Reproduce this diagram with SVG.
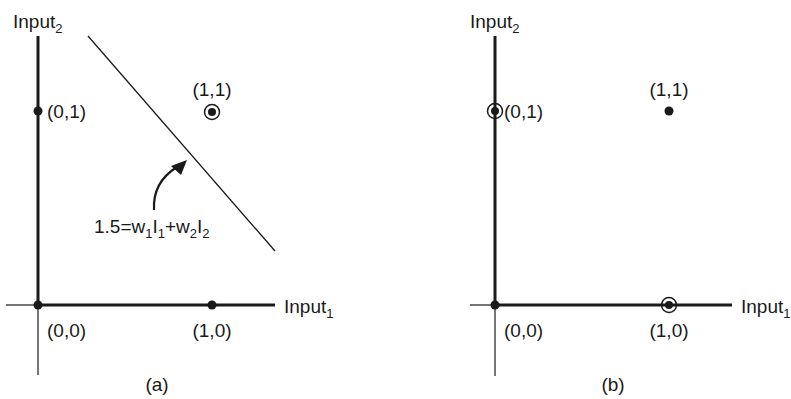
<svg xmlns="http://www.w3.org/2000/svg" width="791" height="399" viewBox="0 0 791 399">
<style>
text{font-family:"Liberation Sans",Arial,sans-serif;font-size:19px;fill:#1a1a1a}
.sub{font-size:13px}
.mid{text-anchor:middle}
.thick{stroke:#1a1a1a;stroke-width:3;fill:none}
.thin{stroke:#1a1a1a;stroke-width:1.2;fill:none}
.dot{fill:#1a1a1a}
.ring{fill:none;stroke:#1a1a1a;stroke-width:1.5}
</style>
<rect width="791" height="399" fill="#fff"/>
<g id="panel-a">
<g id="axes-a">
<line class="thin" x1="6" y1="305" x2="38" y2="305"/>
<line class="thin" x1="38" y1="305" x2="38" y2="375"/>
<line class="thick" x1="38" y1="36" x2="38" y2="305"/>
<line class="thick" x1="38" y1="305" x2="275" y2="305"/>
<text x="13" y="28">Input<tspan class="sub" dy="5">2</tspan></text>
<text x="284" y="313">Input<tspan class="sub" dy="5">1</tspan></text>
</g>
<g id="a-p00"><circle class="dot" cx="38" cy="305" r="4.5"/><text x="47" y="337">(0,0)</text></g>
<g id="a-p01"><circle class="dot" cx="38" cy="111" r="4.5"/><text x="47" y="118">(0,1)</text></g>
<g id="a-p10"><circle class="dot" cx="212" cy="305" r="4.5"/><text class="mid" x="212" y="337">(1,0)</text></g>
<g id="a-p11"><circle class="dot" cx="212" cy="112" r="4"/><circle class="ring" cx="212" cy="112" r="7.5"/><text class="mid" x="212" y="96">(1,1)</text></g>
<g id="a-line"><line x1="88" y1="36" x2="275" y2="251" stroke="#1a1a1a" stroke-width="1.3"/></g>
<g id="a-formula"><text x="94" y="233">1.5=w<tspan class="sub" dy="5">1</tspan><tspan dy="-5">I</tspan><tspan class="sub" dy="5">1</tspan><tspan dy="-5">+w</tspan><tspan class="sub" dy="5">2</tspan><tspan dy="-5">I</tspan><tspan class="sub" dy="5">2</tspan></text></g>
<text class="mid" x="157" y="391">(a)</text>
</g>
<g id="connectors">
<path d="M154,210 C153,192 161,177 177,167" stroke="#1a1a1a" stroke-width="2.2" fill="none"/>
<polygon points="187,160 171,166 181,175" fill="#1a1a1a"/>
</g>
<g id="panel-b">
<g id="axes-b">
<line class="thin" x1="470" y1="305" x2="495" y2="305"/>
<line class="thin" x1="495" y1="305" x2="495" y2="376"/>
<line class="thick" x1="495" y1="36" x2="495" y2="305"/>
<line class="thick" x1="495" y1="305" x2="732" y2="305"/>
<text x="470" y="28">Input<tspan class="sub" dy="5">2</tspan></text>
<text x="741" y="313">Input<tspan class="sub" dy="5">1</tspan></text>
</g>
<g id="b-p00"><circle class="dot" cx="495" cy="305" r="4.5"/><text x="504" y="337">(0,0)</text></g>
<g id="b-p01"><circle class="dot" cx="495" cy="111" r="4"/><circle class="ring" cx="495" cy="111" r="7.5"/><text x="504" y="118">(0,1)</text></g>
<g id="b-p10"><circle class="dot" cx="669" cy="305" r="4"/><circle class="ring" cx="669" cy="305" r="7.5"/><text class="mid" x="669" y="337">(1,0)</text></g>
<g id="b-p11"><circle class="dot" cx="669" cy="111" r="4.5"/><text class="mid" x="669" y="96">(1,1)</text></g>
<text class="mid" x="613" y="391">(b)</text>
</g>
</svg>
